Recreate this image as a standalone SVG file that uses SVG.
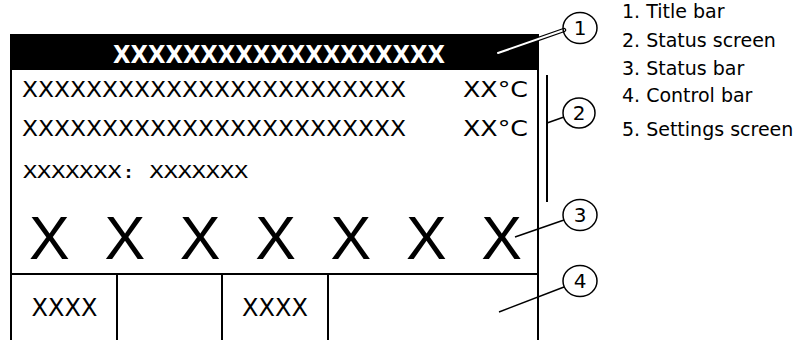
<svg xmlns="http://www.w3.org/2000/svg" width="797" height="340" viewBox="0 0 797 340">
<style>
.ln{stroke:#000;stroke-width:2;fill:none}
.thin{stroke:#000;stroke-width:1.5;fill:none}
.scr{font-family:"DejaVu Sans",Verdana,sans-serif;fill:#000}
.leg{font-family:"DejaVu Sans",Verdana,sans-serif;font-size:19px;fill:#000}
.num{font-family:"DejaVu Sans",Verdana,sans-serif;font-size:20px;fill:#000;text-anchor:middle}
.big{font-family:"Liberation Sans",Arial,sans-serif;font-size:61px;fill:#000}
</style>
<rect width="797" height="340" fill="#fff"/>
<g id="screen">
  <rect x="10" y="34" width="529" height="36" fill="#000"/>
  <line class="ln" x1="11" y1="34" x2="11" y2="341"/>
  <line class="ln" x1="538" y1="34" x2="538" y2="341"/>
  <text class="scr" x="113" y="63" font-size="24" font-weight="bold" style="fill:#fff" textLength="332" lengthAdjust="spacingAndGlyphs">XXXXXXXXXXXXXXXXXXX</text>
</g>
<g id="status-screen">
  <text class="scr" x="22" y="97" font-size="21" textLength="384" lengthAdjust="spacingAndGlyphs">XXXXXXXXXXXXXXXXXXXXXXXX</text>
  <text class="scr" x="463" y="97" font-size="21" textLength="65" lengthAdjust="spacingAndGlyphs">XX°C</text>
  <text class="scr" x="22" y="136" font-size="21" textLength="384" lengthAdjust="spacingAndGlyphs">XXXXXXXXXXXXXXXXXXXXXXXX</text>
  <text class="scr" x="463" y="136" font-size="21" textLength="65" lengthAdjust="spacingAndGlyphs">XX°C</text>
  <text class="scr" x="23" y="178" font-size="18" textLength="225" lengthAdjust="spacingAndGlyphs" style="font-family:'DejaVu Sans Mono',monospace">XXXXXXX: XXXXXXX</text>
</g>
<g id="status-bar">
  <text class="big" x="29" y="259" textLength="493" lengthAdjust="spacing">X X X X X X X</text>
</g>
<g id="control-bar">
  <line class="ln" x1="11" y1="274" x2="538" y2="274"/>
  <line class="ln" x1="117" y1="274" x2="117" y2="341"/>
  <line class="ln" x1="222" y1="274" x2="222" y2="341"/>
  <line class="ln" x1="328" y1="274" x2="328" y2="341"/>
  <text class="scr" x="64.5" y="316" font-size="24" text-anchor="middle">XXXX</text>
  <text class="scr" x="275" y="316" font-size="24" text-anchor="middle">XXXX</text>
</g>
<g id="connectors">
  <line x1="498" y1="53" x2="564" y2="30" stroke="#000" stroke-width="4.5" stroke-linecap="round"/>
  <line x1="498" y1="53" x2="564" y2="30" stroke="#fff" stroke-width="2" stroke-linecap="round"/>
  <line class="ln" x1="547" y1="75" x2="547" y2="202"/>
  <line class="thin" x1="547" y1="123" x2="564" y2="117"/>
  <line class="thin" x1="515" y1="237" x2="564" y2="220"/>
  <line class="thin" x1="499" y1="312" x2="564" y2="287"/>
</g>
<g id="callout-1"><ellipse class="thin" cx="580" cy="28" rx="17" ry="15.5"/><text class="num" x="580" y="35">1</text></g>
<g id="callout-2"><ellipse class="thin" cx="579" cy="113" rx="16" ry="15"/><text class="num" x="579" y="120">2</text></g>
<g id="callout-3"><ellipse class="thin" cx="580" cy="215" rx="17" ry="15.5"/><text class="num" x="580" y="222">3</text></g>
<g id="callout-4"><ellipse class="thin" cx="580" cy="281" rx="17" ry="15.5"/><text class="num" x="580" y="288">4</text></g>
<g id="legend">
  <text class="leg" x="622" y="18">1. Title bar</text>
  <text class="leg" x="622" y="47">2. Status screen</text>
  <text class="leg" x="622" y="75">3. Status bar</text>
  <text class="leg" x="622" y="102">4. Control bar</text>
  <text class="leg" x="622" y="136">5. Settings screen</text>
</g>
</svg>
